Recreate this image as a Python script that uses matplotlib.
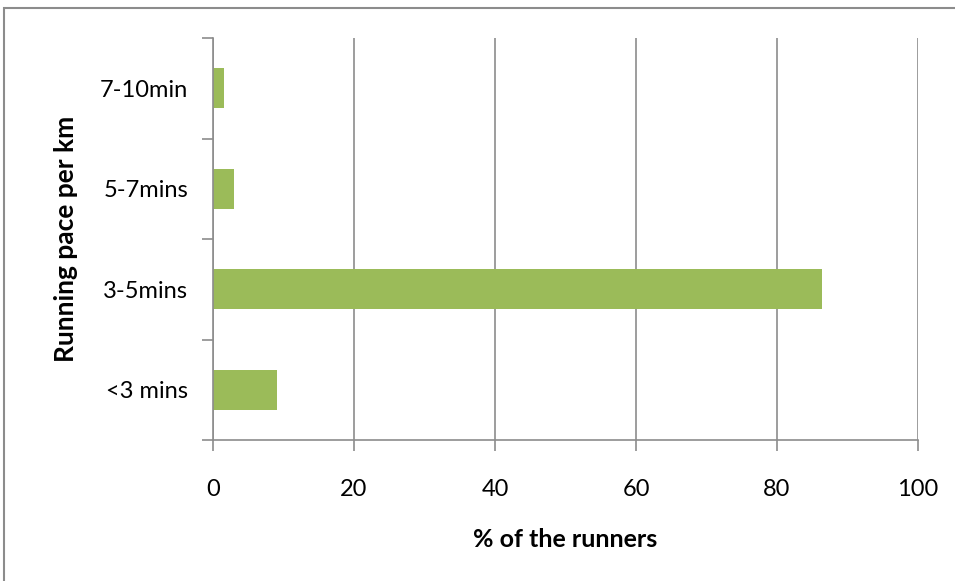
import matplotlib.pyplot as plt
from matplotlib.patches import Rectangle

paces = ['<3 mins', '3-5mins', '5-7mins', '7-10min']
share = [9.1, 86.4, 3.0, 1.6]

plt.rcParams['font.family'] = ['Lato', 'DejaVu Sans']

fig = plt.figure(figsize=(9.55, 5.81), dpi=100)
ax = fig.add_axes([213 / 955, 1 - 440 / 581, 705 / 955, 402 / 581])

grey = '#8c8c8c'
ax.barh(range(len(paces)), share, height=0.4, color='#9bbb59', zorder=3)

ax.set_xlim(0, 100)
ax.set_ylim(-0.5, len(paces) - 0.5)
ax.set_xticks(range(0, 101, 20))
ax.set_yticks([i - 0.5 for i in range(len(paces) + 1)], minor=False)
ax.set_yticklabels([])
ax.set_yticks(range(len(paces)), minor=True)
ax.set_yticklabels(paces, minor=True)
ax.tick_params(axis='y', which='minor', length=0, pad=18, labelsize=17)
ax.tick_params(axis='y', which='major', length=8, color=grey, width=1.2)
ax.tick_params(axis='x', length=8, color=grey, width=1.2, labelsize=17, pad=20)

ax.grid(axis='x', color=grey, linewidth=1.2, zorder=0)
for side in ['top', 'right']:
    ax.spines[side].set_visible(False)
for side in ['left', 'bottom']:
    ax.spines[side].set_color(grey)
    ax.spines[side].set_linewidth(1.2)
    ax.spines[side].set_zorder(4)

ax.set_xlabel('% of the runners', fontsize=18, fontweight='bold', labelpad=20)
ax.set_ylabel('Running pace per km', fontsize=19, fontweight='bold', labelpad=16)

# outer chart frame
fig.patches.append(Rectangle((4 / 955, -0.05), 1.1, 1 - 8 / 581 + 0.05,
                             transform=fig.transFigure, fill=False,
                             edgecolor=grey, linewidth=1.5))

fig.savefig('out.png', dpi=100)
